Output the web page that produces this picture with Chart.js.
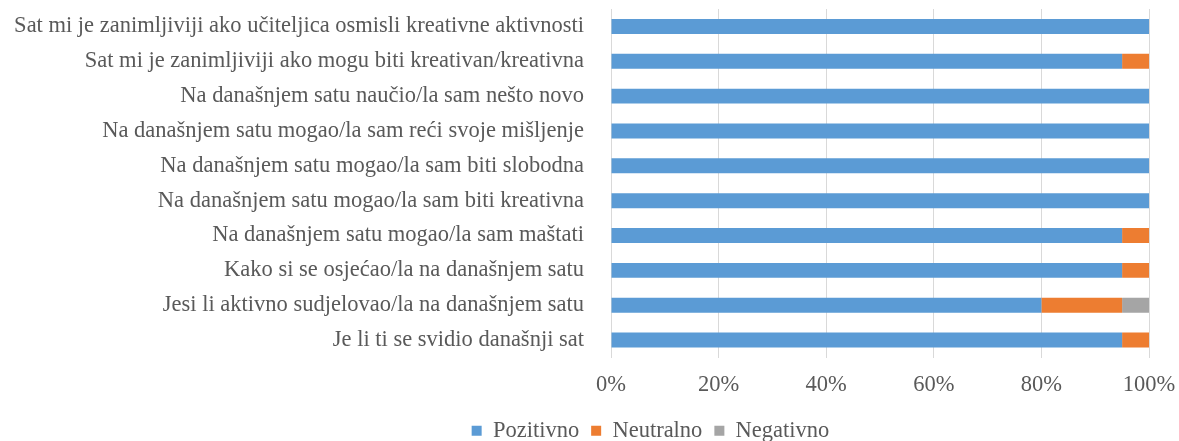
<!DOCTYPE html>
<html>
<head>
<meta charset="utf-8">
<script src="https://cdn.jsdelivr.net/npm/chart.js@4"></script>
<style>
  html, body { margin: 0; padding: 0; background: #fff; }
  #wrap { width: 1179px; height: 441px; }
</style>
</head>
<body>
<div id="wrap"><canvas id="Chart" width="1179" height="441"></canvas></div>
<script>
const categories = [
  'Sat mi je zanimljiviji ako učiteljica osmisli kreativne aktivnosti',
  'Sat mi je zanimljiviji ako mogu biti kreativan/kreativna',
  'Na današnjem satu naučio/la sam nešto novo',
  'Na današnjem satu mogao/la sam reći svoje mišljenje',
  'Na današnjem satu mogao/la sam biti slobodna',
  'Na današnjem satu mogao/la sam biti kreativna',
  'Na današnjem satu mogao/la sam maštati',
  'Kako si se osjećao/la na današnjem satu',
  'Jesi li aktivno sudjelovao/la na današnjem satu',
  'Je li ti se svidio današnji sat'
];
const pozitivno = [100, 95, 100, 100, 100, 100, 95, 95, 80, 95];
const neutralno = [0, 5, 0, 0, 0, 0, 5, 5, 15, 5];
const negativno = [0, 0, 0, 0, 0, 0, 0, 0, 5, 0];
const seriesNames = ['Pozitivno', 'Neutralno', 'Negativno'];
const xTicks = [0, 20, 40, 60, 80, 100];

const textColor = '#595959';
const fontFam = '"Liberation Serif", "Times New Roman", serif';

// pomak legende udesno, kao u originalu
const legendShift = {
  id: 'legendShift',
  afterLayout(chart) {
    const lg = chart.legend;
    if (!lg) return;
    const dx = 76, dy = 0;
    lg.left += dx; lg.right += dx;
    lg.top += dy; lg.bottom += dy;
  }
};

function crearChart() {
  const ctx = document.getElementById('Chart');
  new Chart(ctx, {
    type: 'bar',
    data: {
      labels: categories,
      datasets: [
        { label: seriesNames[0], data: pozitivno, backgroundColor: '#5B9BD5' },
        { label: seriesNames[1], data: neutralno, backgroundColor: '#ED7D31' },
        { label: seriesNames[2], data: negativno, backgroundColor: '#A5A5A5' }
      ]
    },
    plugins: [legendShift],
    options: {
      indexAxis: 'y',
      responsive: false,
      animation: false,
      devicePixelRatio: 1,
      datasets: {
        bar: { categoryPercentage: 1, barPercentage: 0.43, borderWidth: 0 }
      },
      layout: {
        padding: { top: 9, right: 30, left: 0, bottom: -11 }
      },
      scales: {
        x: {
          stacked: true,
          min: 0,
          max: 100,
          afterBuildTicks: function(scale) {
            scale.ticks = xTicks.map(v => ({ value: v }));
          },
          afterFit: function(scale) {
            scale.height = 50;
            scale.paddingLeft = 0;
            scale.paddingRight = 0;
          },
          grid: { color: '#d9d9d9', drawTicks: false, lineWidth: 1 },
          border: { display: false },
          ticks: {
            color: textColor,
            font: { family: fontFam, size: 22.5 },
            padding: 14,
            maxRotation: 0,
            callback: v => v + '%'
          }
        },
        y: {
          stacked: true,
          afterFit: function(scale) {
            scale.width = 611;
            scale.paddingTop = 0;
            scale.paddingBottom = 0;
          },
          grid: { display: false },
          border: { display: true, color: '#d9d9d9' },
          ticks: {
            color: textColor,
            font: { family: fontFam, size: 22.5 },
            padding: 19,
            autoSkip: false
          }
        }
      },
      plugins: {
        legend: {
          position: 'bottom',
          labels: {
            color: textColor,
            font: { family: fontFam, size: 22.5 },
            boxWidth: 10,
            boxHeight: 10,
            padding: 12
          }
        },
        tooltip: { enabled: false }
      }
    }
  });
}
crearChart();
</script>
</body>
</html>
